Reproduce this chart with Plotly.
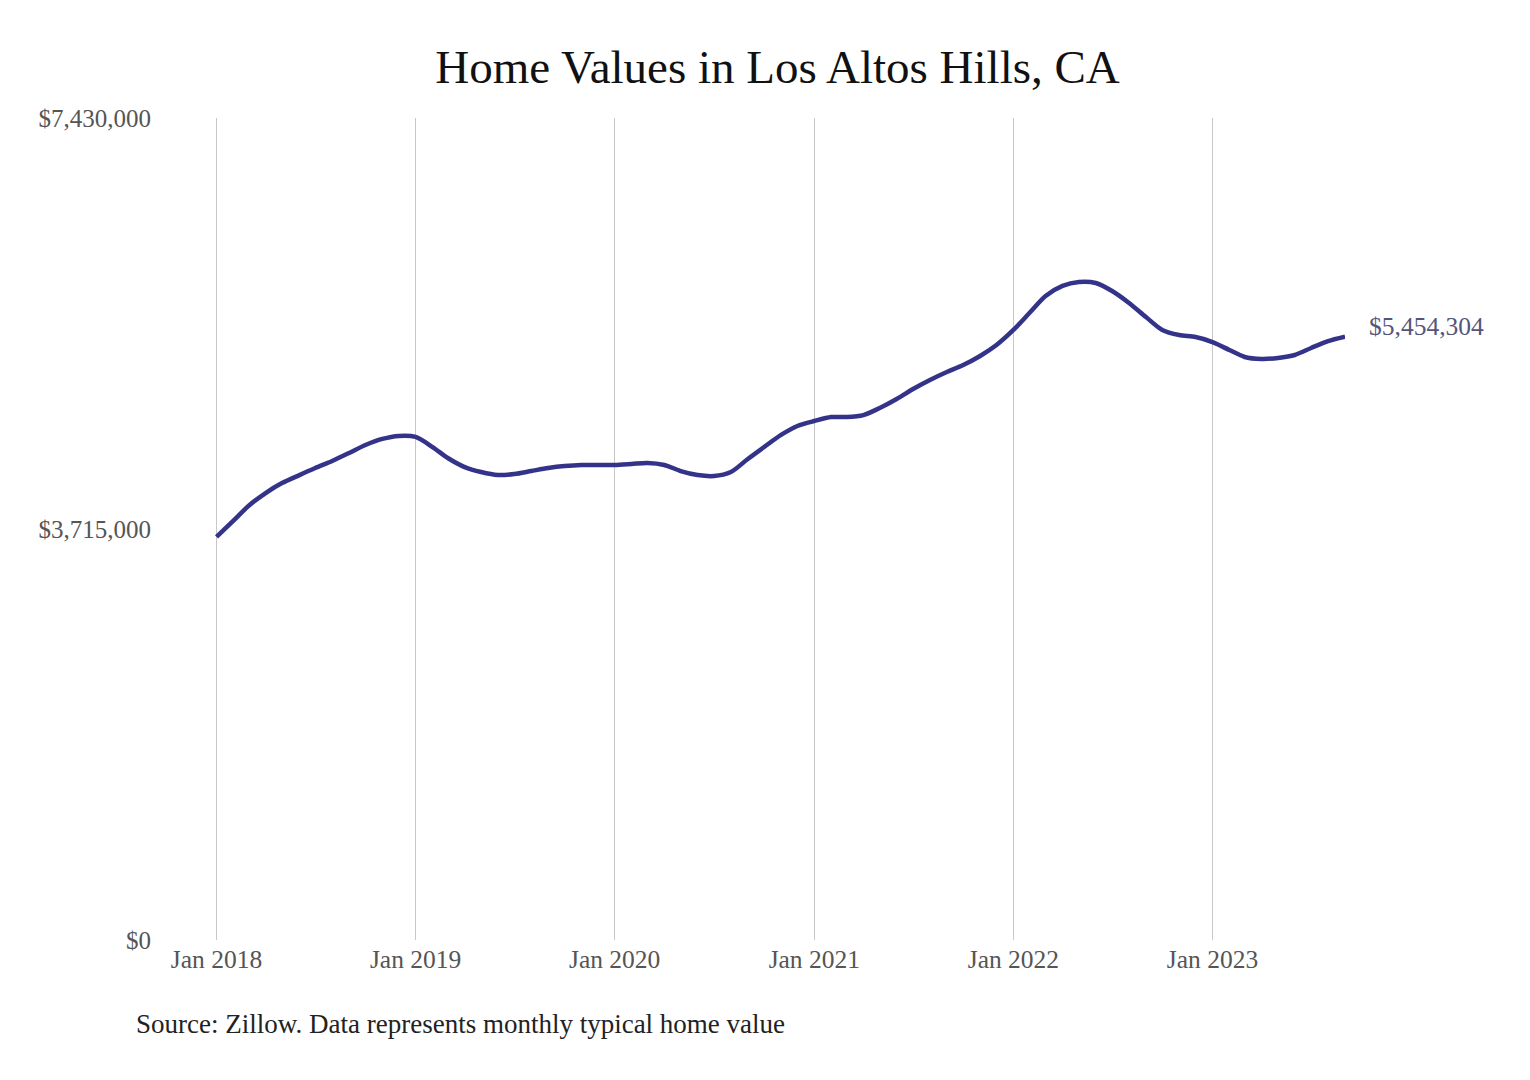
import pandas as pd
import plotly.graph_objects as go

# monthly typical home value, Los Altos Hills
months = pd.date_range("2018-01-01", "2023-09-01", freq="MS")
values = [
    3643000, 3790000, 3925000, 4040000, 4130000, 4200000,
    4266000, 4330000, 4402000, 4474000, 4529000, 4556000,
    4547000, 4456000, 4357000, 4275000, 4230000, 4203000,
    4212000, 4239000, 4266000, 4284000, 4294000, 4294000,
    4294000, 4303000, 4312000, 4294000, 4239000, 4203000,
    4194000, 4230000, 4348000, 4456000, 4565000, 4646000,
    4691000, 4727000, 4727000, 4745000, 4809000, 4890000,
    4980000, 5062000, 5134000, 5197000, 5279000, 5378000,
    5514000, 5676000, 5821000, 5912000, 5948000, 5939000,
    5866000, 5758000, 5631000, 5514000, 5468000, 5450000,
    5405000, 5333000, 5270000, 5252000, 5261000, 5288000,
    5351000, 5414000, 5454304,
]

y_ticks = [0, 3715000, 7430000]
y_labels = ["$0", "$3,715,000", "$7,430,000"]
x_ticks = pd.date_range("2018-01-01", "2023-01-01", freq="YS")
x_labels = ["Jan " + str(d.year) for d in x_ticks]

serif = "Liberation Serif"
line_col = "#34338a"

fig = go.Figure()
fig.add_trace(go.Scatter(
    x=months, y=values, mode="lines",
    line=dict(color=line_col, width=4.5, shape="spline", smoothing=0.8),
    hoverinfo="skip",
))

# value label at the end of the line
fig.add_annotation(
    x=months[-1], y=values[-1], xref="x", yref="y",
    text="$" + format(values[-1], ","), showarrow=False,
    xanchor="left", yanchor="middle", xshift=22, yshift=10,
    font=dict(family=serif, size=25.5, color="#55557a"),
)

fig.add_annotation(
    x=0, y=0, xref="paper", yref="paper",
    text="Source: Zillow. Data represents monthly typical home value",
    showarrow=False, xanchor="left", yanchor="middle",
    xshift=-76, yshift=-84,
    font=dict(family=serif, size=27, color="#222222"),
)

# page body adds an 8px offset, so the figure is a bit smaller than the window
# x range starts a few days early so the Jan 2018 gridline is drawn
fig.update_layout(
    width=1522, height=1072,
    margin=dict(l=202, r=185, t=110, b=140),
    paper_bgcolor="white", plot_bgcolor="white",
    showlegend=False,
    title=dict(
        text="Home Values in Los Altos Hills, CA",
        x=0.5, xref="paper", y=1 - 59 / 1072, yref="container",
        xanchor="center", yanchor="middle",
        font=dict(family=serif, size=47, color="#111111"),
    ),
    xaxis=dict(
        range=[pd.Timestamp("2017-12-20"), months[-1]],
        tickvals=x_ticks, ticktext=x_labels,
        showgrid=True, gridcolor="#c8c8c8", gridwidth=1,
        zeroline=False, showline=False, ticks="",
        tickfont=dict(family=serif, size=25.5, color="#555555"),
        ticklabelstandoff=1,
    ),
    yaxis=dict(
        range=[0, 7430000],
        tickvals=y_ticks, ticktext=y_labels,
        showgrid=False, zeroline=False, showline=False, ticks="",
        tickfont=dict(family=serif, size=25, color="#555555"),
        ticklabelstandoff=58,
    ),
)

fig.write_html("out.html")
